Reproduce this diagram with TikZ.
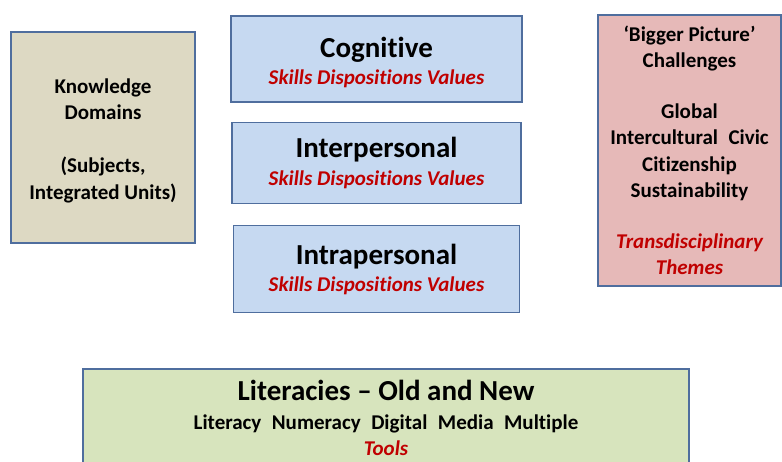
\documentclass[tikz,border=0pt]{standalone}
\usepackage{fontspec}
\setmainfont{Carlito}[Ligatures=CommonOff]
\usetikzlibrary{positioning}

\definecolor{edgeblue}{HTML}{4F6E9E}
\definecolor{skillblue}{HTML}{C6D9F1}
\definecolor{knowtan}{HTML}{DDD9C3}
\definecolor{themepink}{HTML}{E6B9B8}
\definecolor{litgreen}{HTML}{D7E4BD}
\definecolor{textred}{HTML}{C00000}

\newcommand{\headsize}{\fontsize{29}{29}\selectfont}
\newcommand{\redit}[1]{{\color{textred}\itshape #1}}
\newcommand{\topstrut}[1]{\rule{0pt}{#1}}

\begin{document}
\begin{tikzpicture}[x=1pt, y=-1pt,
  box/.style={draw=edgeblue, line width=1.4pt, inner sep=0pt, align=center,
    font=\bfseries\fontsize{21}{26.5}\selectfont},
  skillbox/.style={box, fill=skillblue},
  knowbox/.style={box, fill=knowtan},
  themebox/.style={box, fill=themepink},
  litbox/.style={box, fill=litgreen}
]
\useasboundingbox (0,0) rectangle (782,462);

%% --- knowledge domains (left) ---
\node[knowbox, minimum width=184pt, minimum height=211pt] (knowledge)
  at (103,137.5)
  {\topstrut{21pt}Knowledge\\Domains\\[26.5pt](Subjects,\\Integrated Units)};

%% --- three skill boxes (middle column) ---
\node[skillbox, minimum width=291pt, minimum height=86pt] (cognitive)
  at (376.5,59)
  {{\headsize\topstrut{27pt}Cognitive}\\[1pt]\redit{Skills Dispositions Values}};
\node[skillbox, minimum width=289pt, minimum height=81pt,
  below=19pt of cognitive] (interpersonal)
  {{\headsize Interpersonal}\\[1pt]\redit{Skills Dispositions Values}};
\node[skillbox, minimum width=286pt, minimum height=87pt,
  below=21pt of interpersonal] (intrapersonal)
  {{\headsize Intrapersonal}\\[1pt]\redit{Skills Dispositions Values}};

%% --- bigger picture themes (right) ---
\node[themebox, minimum width=183pt, minimum height=271pt] (themes)
  at (689.5,150.5)
  {`Bigger Picture'\\Challenges\\[24pt]Global\\Intercultural\enspace Civic\\
   Citizenship\\Sustainability\\[24pt]\redit{Transdisciplinary}\\\redit{Themes}};

%% --- literacies (bottom, runs off the page) ---
\node[litbox, minimum width=606pt, minimum height=98pt] (literacies)
  at (386,418)
  {{\headsize Literacies -- Old and New}\\[2pt]
   Literacy\enspace Numeracy\enspace Digital\enspace Media\enspace Multiple\\
   \redit{Tools}};

\end{tikzpicture}
\end{document}
